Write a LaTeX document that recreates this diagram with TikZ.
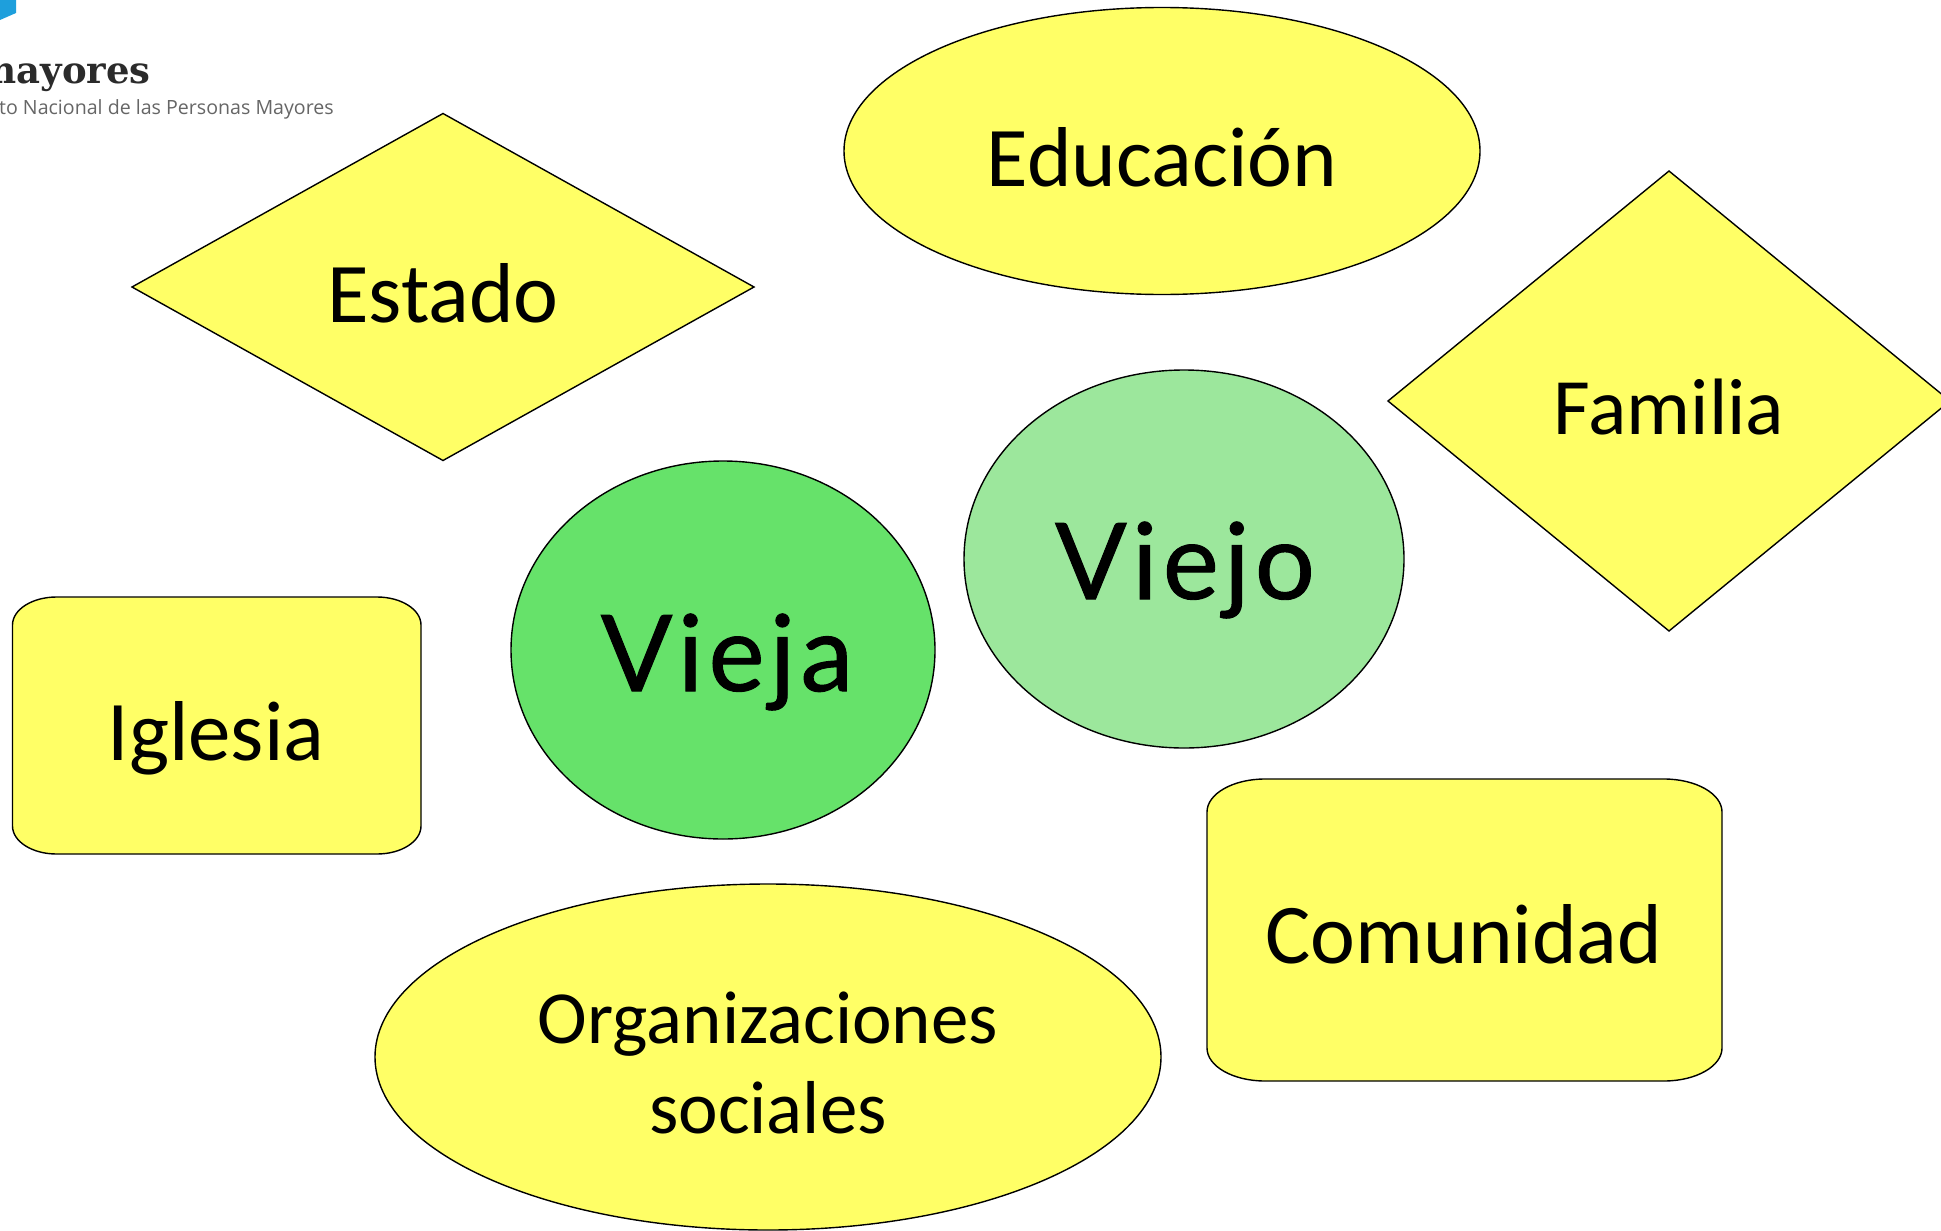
\documentclass[tikz,border=0pt]{standalone}
\usepackage{fontspec}
\setmainfont{Carlito}
\newfontfamily\handfont[LetterSpace=5,FakeBold=0.9]{Lato}
\newfontfamily\logofont{DejaVu Serif}
\newfontfamily\logosans{Open Sans}
\usetikzlibrary{shapes.geometric}
\definecolor{shapeyellow}{HTML}{FFFF66}
\definecolor{viejagreen}{HTML}{66E26A}
\definecolor{viejogreen}{HTML}{9CE79C}
\definecolor{logoblue}{HTML}{1E9FDC}
\definecolor{logotext}{HTML}{2B2B2B}
\definecolor{logogrey}{HTML}{666666}
\tikzset{
  x=1pt,y=-1pt,
  outlined/.style={draw=black,line width=1.4pt,inner sep=0pt,outer sep=0pt},
  yellowell/.style={outlined,ellipse,fill=shapeyellow},
  yellowdia/.style={outlined,diamond,fill=shapeyellow},
  lbl/.style={inner sep=0pt,font=\fontsize{85}{96}\selectfont,align=center,text=black},
  hand/.style={inner sep=0pt,font=\handfont\fontsize{106}{110}\selectfont,text=black},
}
\begin{document}
\begin{tikzpicture}
\useasboundingbox (0,0) rectangle (1941,1231);
\begin{scope}
\clip (0,0) rectangle (1941,1231);
\fill[white] (0,0) rectangle (1941,1231);
% logo
\fill[logoblue] (0,0) -- (16,0) -- (16,13) -- (0,20) -- cycle;
\node[anchor=base east,inner sep=0pt,text=logotext,font=\logofont\bfseries\fontsize{37}{37}\selectfont] (logoa) at (151,84) {mayores};
\node[anchor=base east,inner sep=0pt,text=logogrey,font=\logosans\fontsize{19.6}{20}\selectfont] (logob) at (334,114) {to Nacional de las Personas Mayores};
% shapes
\node[yellowdia,minimum width=622pt,minimum height=347pt] (estado) at (443,287) {};
\node[yellowell,minimum width=636pt,minimum height=287pt] (educ) at (1162,151) {};
\node[yellowdia,minimum width=562pt,minimum height=460pt] (familia) at (1669,401) {};
\node[outlined,ellipse,fill=viejogreen,minimum width=440pt,minimum height=378pt] (viejo) at (1184,559) {};
\node[outlined,ellipse,fill=viejagreen,minimum width=424pt,minimum height=378pt] (vieja) at (723,650) {};
\draw[draw=black,line width=1.4pt,fill=shapeyellow]
  (12.5,625) arc[start angle=180,end angle=270,x radius=44,y radius=28]
  -- (377,597) arc[start angle=270,end angle=360,x radius=44,y radius=28]
  -- (421,826) arc[start angle=0,end angle=90,x radius=44,y radius=28]
  -- (56.5,854) arc[start angle=90,end angle=180,x radius=44,y radius=28] -- cycle;
\draw[draw=black,line width=1.4pt,fill=shapeyellow]
  (1207,812) arc[start angle=180,end angle=270,x radius=58,y radius=33]
  -- (1664,779) arc[start angle=270,end angle=360,x radius=58,y radius=33]
  -- (1722,1048) arc[start angle=0,end angle=90,x radius=58,y radius=33]
  -- (1265,1081) arc[start angle=90,end angle=180,x radius=58,y radius=33] -- cycle;
\node[yellowell,minimum width=786pt,minimum height=346pt] (orgs) at (768,1057) {};
% labels
\node[lbl] (testado) at (443,293) {Estado};
\node[lbl] (teduc) at (1162,157) {Educación};
\node[lbl,font=\fontsize{80}{96}\selectfont] (tfamilia) at (1669,407) {Familia};
\node[lbl] (tiglesia) at (216,738) {Iglesia};
\node[lbl] (tcomunidad) at (1464,934) {Comunidad};
\node[lbl,font=\fontsize{75}{90}\selectfont] (torgs) at (768,1063) {Organizaciones\\sociales};
\node[hand] (tvieja) at (727,662) {Vieja};
\node[hand] (tviejo) at (1185,570) {Viejo};
\end{scope}
\end{tikzpicture}
\end{document}
